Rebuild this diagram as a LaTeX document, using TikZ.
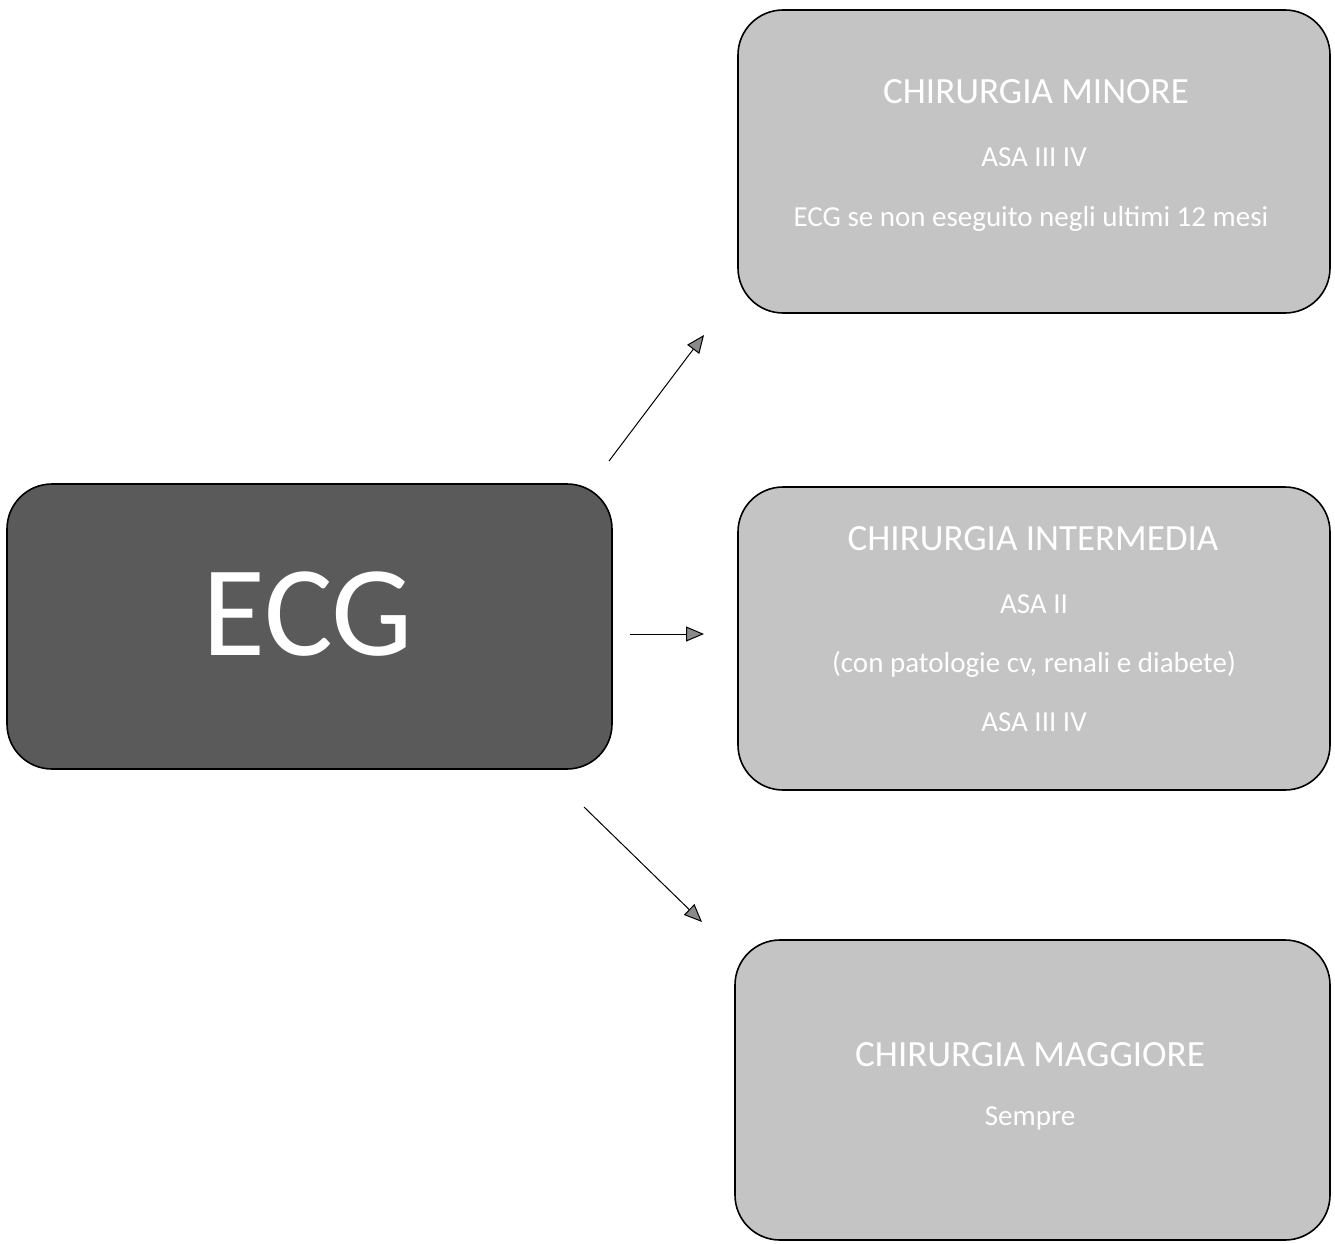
\documentclass[tikz,border=0pt]{standalone}
\usepackage{fontspec}
\setmainfont{Carlito}
\usetikzlibrary{arrows.meta}
\definecolor{darkbox}{HTML}{5A5A5A}
\definecolor{lightbox}{HTML}{C4C4C4}
\definecolor{tipgray}{HTML}{8A8A8A}
\tikzset{
  rbox/.style={draw=black, line width=1.6pt, rounded corners=45pt, fill=lightbox},
  darkrbox/.style={rbox, fill=darkbox},
  txt/.style={text=white, font=\fontsize{29}{34}\selectfont},
  ttl/.style={text=white, font=\fontsize{37}{44}\selectfont},
  conn/.style={draw=black, line width=1pt, -{Triangle[length=18pt, width=15pt, fill=tipgray]}}
}
\begin{document}
\begin{tikzpicture}[x=1pt, y=-1pt]
\useasboundingbox (0,0) rectangle (1335,1244);
% boxes
\path[darkrbox] (7,484) rectangle (612,769);
\path[rbox] (738,10) rectangle (1330,313);
\path[rbox] (738,487) rectangle (1330,790);
\path[rbox] (735,940) rectangle (1330,1240);
% ECG
\node[text=white, font=\fontsize{129}{136}\selectfont] (ecg) at (308,614) {ECG};
% box 1
\node[ttl] (m1) at (1036,92) {CHIRURGIA MINORE};
\node[txt] (m2) at (1034,157) {ASA III IV};
\node[txt] (m3) at (1031,219) {ECG se non eseguito negli ultimi 12 mesi};
% box 2
\node[ttl] (i1) at (1033,539) {CHIRURGIA INTERMEDIA};
\node[txt] (i2) at (1034,604) {ASA II};
\node[txt] (i3) at (1034,664) {(con patologie cv, renali e diabete)};
\node[txt] (i4) at (1034,722) {ASA III IV};
% box 3
\node[ttl] (g1) at (1030,1055) {CHIRURGIA MAGGIORE};
\node[txt] (g2) at (1030,1118) {Sempre};
% arrows
\coordinate (a1s) at (609,461);
\coordinate (a1e) at (704,335);
\coordinate (a2s) at (630,634);
\coordinate (a2e) at (704,634);
\coordinate (a3s) at (584,807);
\coordinate (a3e) at (702,922);
\draw[conn] (a1s) -- (a1e);
\draw[conn] (a2s) -- (a2e);
\draw[conn] (a3s) -- (a3e);
\end{tikzpicture}
\end{document}
